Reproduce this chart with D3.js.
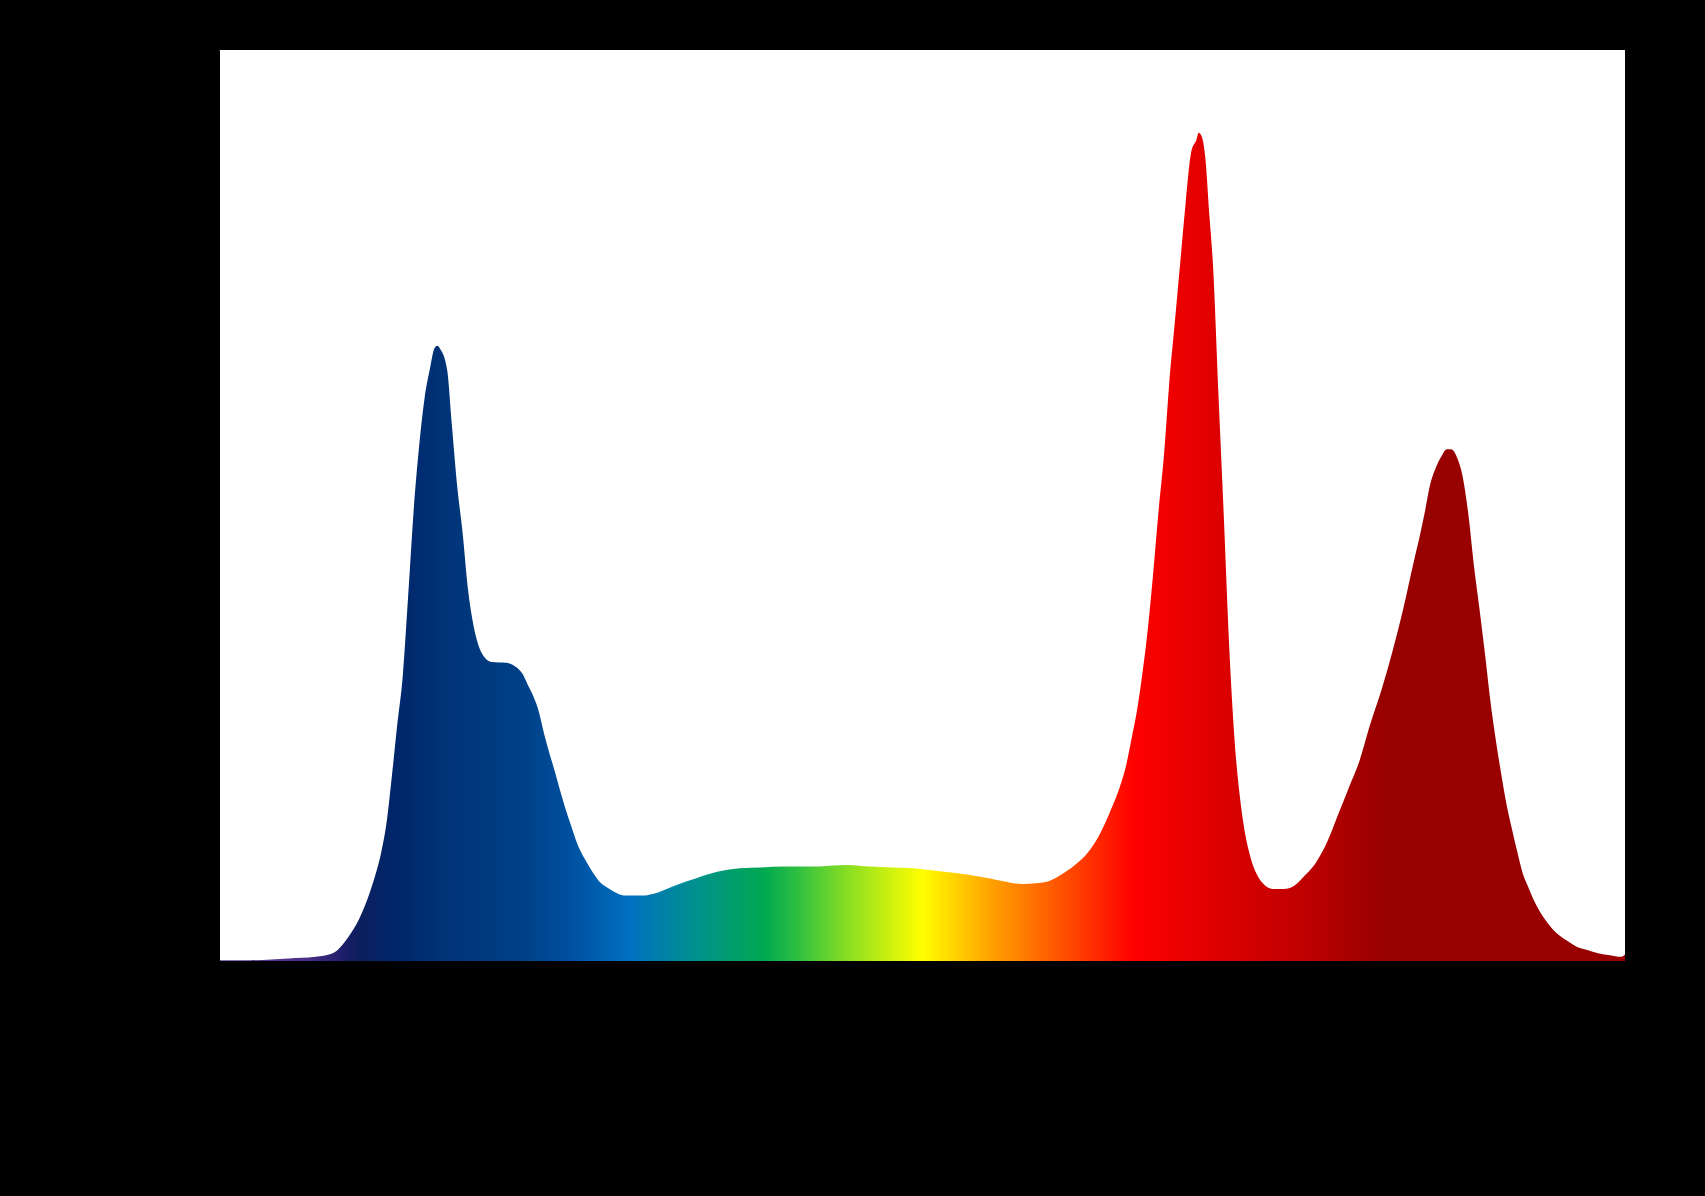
<!DOCTYPE html>
<html>
<head>
<meta charset="utf-8">
<script src="https://cdn.jsdelivr.net/npm/d3@7"></script>
<style>
  html, body { margin: 0; padding: 0; background: #000; }
  svg { display: block; }
</style>
</head>
<body>
<svg id="chart" width="1705" height="1196"></svg>
<script>
// Wavelength (nm) samples
const wavelengths = [380, 389, 399.8, 407.5, 412.2, 416.8, 419.9, 423.0, 424.5, 426.1, 427.6, 429.2, 430.7, 432.3, 433.8, 435.4, 436.9, 438.5, 440.0, 441.3, 442.1, 442.8, 444.9, 446.2, 447.7, 449.3, 450.8, 452.4, 453.9, 455.3, 457.6, 461.7, 464.8, 466.3, 467.9, 469.4, 471.0, 472.5, 474.0, 475.6, 477.1, 478.7, 480.2, 481.8, 484.9, 488.0, 491.1, 495.7, 500.3, 503.4, 509.6, 515.8, 522.0, 528.2, 534.4, 540.6, 548.3, 559.1, 565.3, 571.5, 577.7, 583.9, 590.1, 596.2, 602.4, 608.6, 614.8, 617.9, 621.0, 624.1, 627.2, 630.3, 633.4, 636.5, 638.0, 639.6, 641.1, 642.7, 644.2, 645.7, 647.3, 648.8, 650.4, 651.9, 653.5, 655.0, 656.6, 658.1, 658.7, 659.7, 660.6, 661.8, 662.8, 664.3, 665.8, 667.4, 668.9, 670.5, 672.0, 673.6, 675.1, 676.7, 679.8, 682.9, 685.9, 689.1, 692.1, 695.2, 698.3, 701.4, 704.5, 707.6, 710.7, 713.8, 716.9, 720.0, 721.5, 723.1, 724.6, 726.2, 727.7, 729.3, 730.5, 732.4, 733.9, 735.5, 737.0, 738.6, 740.1, 741.7, 743.2, 744.7, 746.3, 747.8, 749.4, 750.9, 752.5, 754.0, 757.1, 760.2, 763.3, 766.4, 769.5, 772.6, 775.7, 778.8, 780];
// Relative intensity (red peak = 1)
const intensities = [0.001, 0.001, 0.003, 0.005, 0.009, 0.029, 0.051, 0.084, 0.104, 0.130, 0.165, 0.224, 0.285, 0.345, 0.440, 0.545, 0.620, 0.680, 0.715, 0.740, 0.743, 0.740, 0.714, 0.650, 0.576, 0.517, 0.450, 0.405, 0.380, 0.368, 0.361, 0.360, 0.354, 0.347, 0.333, 0.320, 0.301, 0.274, 0.251, 0.228, 0.205, 0.182, 0.163, 0.143, 0.117, 0.097, 0.087, 0.079, 0.079, 0.081, 0.091, 0.100, 0.108, 0.112, 0.113, 0.114, 0.114, 0.116, 0.114, 0.113, 0.112, 0.109, 0.106, 0.102, 0.097, 0.093, 0.095, 0.100, 0.108, 0.118, 0.131, 0.151, 0.179, 0.213, 0.235, 0.268, 0.301, 0.347, 0.399, 0.465, 0.543, 0.609, 0.701, 0.770, 0.845, 0.915, 0.977, 0.992, 1.000, 0.994, 0.970, 0.898, 0.839, 0.688, 0.543, 0.379, 0.268, 0.196, 0.152, 0.123, 0.106, 0.095, 0.087, 0.087, 0.091, 0.104, 0.119, 0.143, 0.176, 0.209, 0.242, 0.287, 0.327, 0.373, 0.425, 0.484, 0.511, 0.543, 0.576, 0.596, 0.609, 0.618, 0.618, 0.606, 0.583, 0.537, 0.478, 0.425, 0.373, 0.314, 0.268, 0.228, 0.189, 0.160, 0.131, 0.106, 0.089, 0.074, 0.051, 0.035, 0.025, 0.017, 0.013, 0.009, 0.007, 0.005, 0.008];
// Spectrum colour stops (wavelength, colour)
const stopWavelengths = [380, 405, 415, 420, 430, 445, 465, 480, 497, 515, 535, 545, 560, 580, 600, 620, 640, 662, 688, 710, 780];
const stopColors = ["#5e3f9a", "#4a2e88", "#1e1d6a", "#0c1f5e", "#00266a", "#003478", "#003f85", "#0050a0", "#0070c0", "#009090", "#00a850", "#30c040", "#90e020", "#ffff00", "#ffa000", "#ff5000", "#ff0000", "#e00000", "#c00000", "#990000", "#990000"];
const xTicks = [400, 450, 500, 550, 600, 650, 700, 750];
const yTicks = [0, 0.2, 0.4, 0.6, 0.8, 1.0];

const data = wavelengths.map((w, i) => ({ w, v: intensities[i] }));

const svg = d3.select("#chart");
const margin = { left: 219, top: 50, right: 1705 - 1625, bottom: 1196 - 961 };
const W = 1705 - margin.left - margin.right;
const H = 1196 - margin.top - margin.bottom;

svg.append("rect").attr("width", 1705).attr("height", 1196).attr("fill", "#000");

const g = svg.append("g").attr("transform", `translate(${margin.left},${margin.top})`);
const x = d3.scaleLinear().domain([380, 780]).range([0, W]);
const y = d3.scaleLinear().domain([0, 1.1]).range([H, 0]);

g.append("rect").attr("width", W).attr("height", H).attr("fill", "#fff");

const defs = svg.append("defs");
const grad = defs.append("linearGradient")
  .attr("id", "spec")
  .attr("gradientUnits", "userSpaceOnUse")
  .attr("x1", x(380)).attr("x2", x(780)).attr("y1", 0).attr("y2", 0);
stopWavelengths.forEach((w, i) => {
  grad.append("stop").attr("offset", (w - 380) / 400).attr("stop-color", stopColors[i]);
});

const area = d3.area()
  .x(d => x(d.w))
  .y0(y(0))
  .y1(d => y(d.v))
  .curve(d3.curveMonotoneX);

g.append("path").datum(data).attr("d", area).attr("fill", "url(#spec)");

// Axes (black, as in the reference)
const xAxis = g.append("g").attr("transform", `translate(0,${H})`)
  .call(d3.axisBottom(x).tickValues(xTicks).tickSize(8));
const yAxis = g.append("g").call(d3.axisLeft(y).tickValues(yTicks).tickSize(8));
[xAxis, yAxis].forEach(a => {
  a.selectAll("path,line").attr("stroke", "#000");
  a.selectAll("text").attr("fill", "#000").style("font-family", "DejaVu Sans").style("font-size", "22px");
});

g.append("text").attr("x", W / 2).attr("y", H + 90).attr("text-anchor", "middle")
  .attr("fill", "#000").style("font-family", "DejaVu Sans").style("font-size", "26px")
  .text("Wavelength (nm)");
g.append("text").attr("transform", `translate(-110,${H / 2}) rotate(-90)`).attr("text-anchor", "middle")
  .attr("fill", "#000").style("font-family", "DejaVu Sans").style("font-size", "26px")
  .text("Relative intensity");
</script>
</body>
</html>
